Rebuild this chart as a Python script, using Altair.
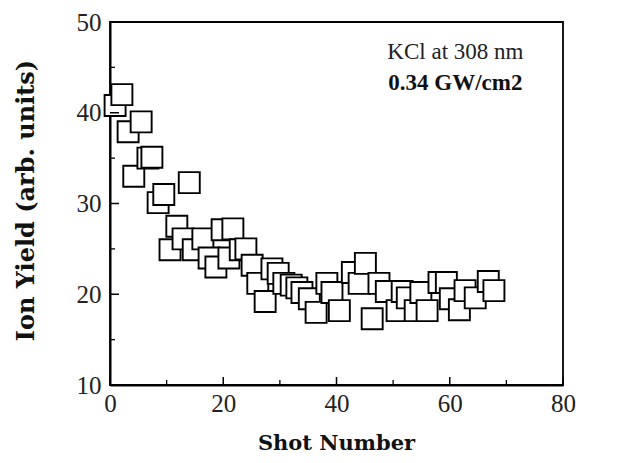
import altair as alt
import pandas as pd

# Data (shot number vs ion yield)
shot = [0.9, 2.1, 3.2, 4.2, 5.5, 6.7, 7.4, 8.5, 9.5, 10.6, 11.8, 12.9, 14.0, 14.7,
        16.4, 17.5, 18.7, 19.8, 21.0, 21.7, 23.0, 24.0, 25.1, 26.1, 27.4, 28.6,
        29.7, 30.7, 32.0, 33.0, 33.9, 35.2, 36.4, 38.3, 39.2, 40.5, 42.8, 44.0,
        45.1, 46.3, 47.5, 48.8, 50.7, 51.6, 52.5, 53.9, 54.9, 56.0, 58.1, 59.4,
        60.1, 61.7, 62.7, 64.5, 66.8, 67.8]
ion_yield = [40.8, 42.0, 37.9, 33.0, 39.0, 35.0, 35.1, 30.1, 31.0, 24.9, 27.5, 26.1,
             32.3, 24.9, 26.1, 24.0, 23.0, 27.1, 24.0, 27.2, 24.9, 25.0, 23.2, 21.2,
             19.2, 22.8, 22.3, 21.2, 21.0, 20.7, 20.2, 19.5, 18.0, 21.2, 20.2, 18.2,
             22.4, 21.2, 23.4, 17.3, 21.2, 20.3, 18.2, 20.3, 19.6, 18.2, 20.2, 18.2,
             21.3, 21.3, 19.5, 18.3, 20.4, 19.6, 21.4, 20.4]

x_ticks = [0, 20, 40, 60, 80]
x_minor = [10, 30, 50, 70]
y_ticks = [10, 20, 30, 40, 50]
y_minor = [15, 25, 35, 45]

ann_x = [61, 61]
ann_y = [45.9, 42.5]
ann_text = ["KCl at 308 nm", "0.34  GW/cm2"]

FONT = "Liberation Serif"
TFONT = "DejaVu Serif"

df = pd.DataFrame({"shot": shot, "ion": ion_yield, "order": list(range(len(shot)))})

xscale = alt.Scale(domain=[0, 80], nice=False, zero=False)
yscale = alt.Scale(domain=[10, 50], nice=False, zero=False)

x_axis = alt.Axis(values=x_ticks, ticks=False, tickSize=0, domain=True, domainColor="black",
                  domainWidth=2, grid=False,
                  labelFont=FONT, labelFontSize=25, labelColor="#222", labelPadding=6,
                  labelFlush=False, title="Shot Number", titleFont=TFONT,
                  titleFontSize=21, titleFontWeight="bold", titleColor="#111",
                  titleX=226, titleY=64, titleBaseline="alphabetic")
y_axis = alt.Axis(values=y_ticks, ticks=False, tickSize=0, domain=True, domainColor="black",
                  domainWidth=2, grid=False,
                  labelFont=FONT, labelFontSize=25, labelColor="#222", labelPadding=9,
                  labelFlush=False, title="Ion Yield (arb. units)", titleFont=TFONT,
                  titleFontSize=24, titleFontWeight="bold", titleColor="#111",
                  titleX=-77, titleY=178, titleBaseline="alphabetic", titleAngle=-90)

points = alt.Chart(df).mark_square(size=441, filled=True, fill="white",
                                   stroke="black", strokeWidth=1.9, opacity=1).encode(
    x=alt.X("shot:Q", scale=xscale, axis=x_axis),
    y=alt.Y("ion:Q", scale=yscale, axis=y_axis),
    order="order:Q",
)

xt_major = alt.Chart(pd.DataFrame({"v": x_ticks})).mark_rule(color="black", strokeWidth=1.5).encode(
    x=alt.X("v:Q", scale=xscale), y=alt.value(363), y2=alt.value(355))
xt_minor = alt.Chart(pd.DataFrame({"v": x_minor})).mark_rule(color="black", strokeWidth=1.3).encode(
    x=alt.X("v:Q", scale=xscale), y=alt.value(363), y2=alt.value(358))
yt_major = alt.Chart(pd.DataFrame({"v": y_ticks})).mark_rule(color="black", strokeWidth=1.5).encode(
    y=alt.Y("v:Q", scale=yscale), x=alt.value(0), x2=alt.value(9))
yt_minor = alt.Chart(pd.DataFrame({"v": y_minor})).mark_rule(color="black", strokeWidth=1.3).encode(
    y=alt.Y("v:Q", scale=yscale), x=alt.value(0), x2=alt.value(5))

ann_df = pd.DataFrame({"x": ann_x, "y": ann_y, "t": ann_text})
ann1 = alt.Chart(ann_df.iloc[[0]]).mark_text(font=FONT, fontSize=23, color="#222",
                                             align="center", baseline="alphabetic").encode(
    x=alt.X("x:Q", scale=xscale), y=alt.Y("y:Q", scale=yscale), text="t:N")
ann2 = alt.Chart(ann_df.iloc[[1]]).mark_text(font=FONT, fontSize=23, fontWeight="bold",
                                             color="#111", align="center",
                                             baseline="alphabetic").encode(
    x=alt.X("x:Q", scale=xscale), y=alt.Y("y:Q", scale=yscale), text="t:N")

chart = alt.layer(points, xt_major, xt_minor, yt_major, yt_minor, ann1, ann2).properties(
    width=453, height=363,
    padding={"left": 102, "top": 14, "right": 52, "bottom": 70},
    autosize=alt.AutoSizeParams(type="none"),
    background="white",
).configure_view(stroke="black", strokeWidth=1.8)

chart.save("out.html", embed_options={"renderer": "svg", "actions": False})
